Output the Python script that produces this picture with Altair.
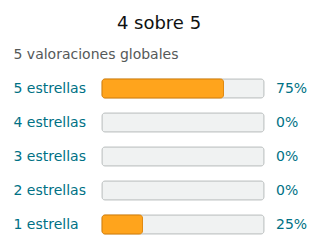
import altair as alt
import pandas as pd

labels = ["5 estrellas", "4 estrellas", "3 estrellas", "2 estrellas", "1 estrella"]
percents = [75, 0, 0, 0, 25]
title_text = "4 sobre 5"
subtitle_text = "5 valoraciones globales"

df = pd.DataFrame({"label": labels, "pct": percents})
df["full"] = 100
df["pct_text"] = [f"{p}%" for p in percents]

FONT = "DejaVu Sans"
TEAL = "#007185"

y_enc = alt.Y(
    "label:N",
    sort=labels,
    scale=alt.Scale(paddingInner=0.44, paddingOuter=0.22),
    axis=alt.Axis(
        title=subtitle_text,
        titleAngle=0,
        titleAlign="left",
        titleBaseline="middle",
        titleX=-89,
        titleY=-17,
        titleFont=FONT,
        titleFontSize=14,
        titleFontWeight="normal",
        titleColor="#565959",
        ticks=False,
        domain=False,
        grid=False,
        labelAlign="left",
        labelBaseline="middle",
        labelPadding=89,
        labelFont=FONT,
        labelFontSize=14,
        labelColor=TEAL,
    ),
)
x_scale = alt.Scale(domain=[0, 100], nice=False, zero=True)

base = alt.Chart(df)

bg = base.mark_bar(
    fill="#f0f2f2", stroke="#c4c8c8", strokeWidth=1, cornerRadius=3
).encode(
    x=alt.X("full:Q", scale=x_scale, axis=None),
    y=y_enc,
)

fill = base.transform_filter("datum.pct > 0").mark_bar(
    fill="#ffa41c", stroke="#e08a13", strokeWidth=1, cornerRadius=3
).encode(
    x=alt.X("pct:Q", scale=x_scale, axis=None),
    y=alt.Y("label:N", sort=labels),
)

txt = base.mark_text(
    align="left", baseline="middle", dx=12, font=FONT, fontSize=14, color=TEAL
).encode(
    x=alt.XDatum(100, axis=None),
    y=alt.Y("label:N", sort=labels),
    text="pct_text:N",
)

chart = (
    alt.layer(bg, fill, txt)
    .properties(
        width=162,
        height=170,
        background="white",
        title=alt.TitleParams(
            title_text,
            anchor="middle",
            font=FONT,
            fontSize=18,
            fontWeight="normal",
            color="#0f1111",
            dx=-24,
            offset=15,
        ),
        autosize=alt.AutoSizeParams(type="none"),
        padding={"left": 102, "top": 71.5, "right": 56, "bottom": 10.5},
    )
    .configure_axis(grid=False)
    .configure_view(strokeWidth=0)
)

chart.save("out.html", embed_options={"renderer": "svg", "actions": False})
